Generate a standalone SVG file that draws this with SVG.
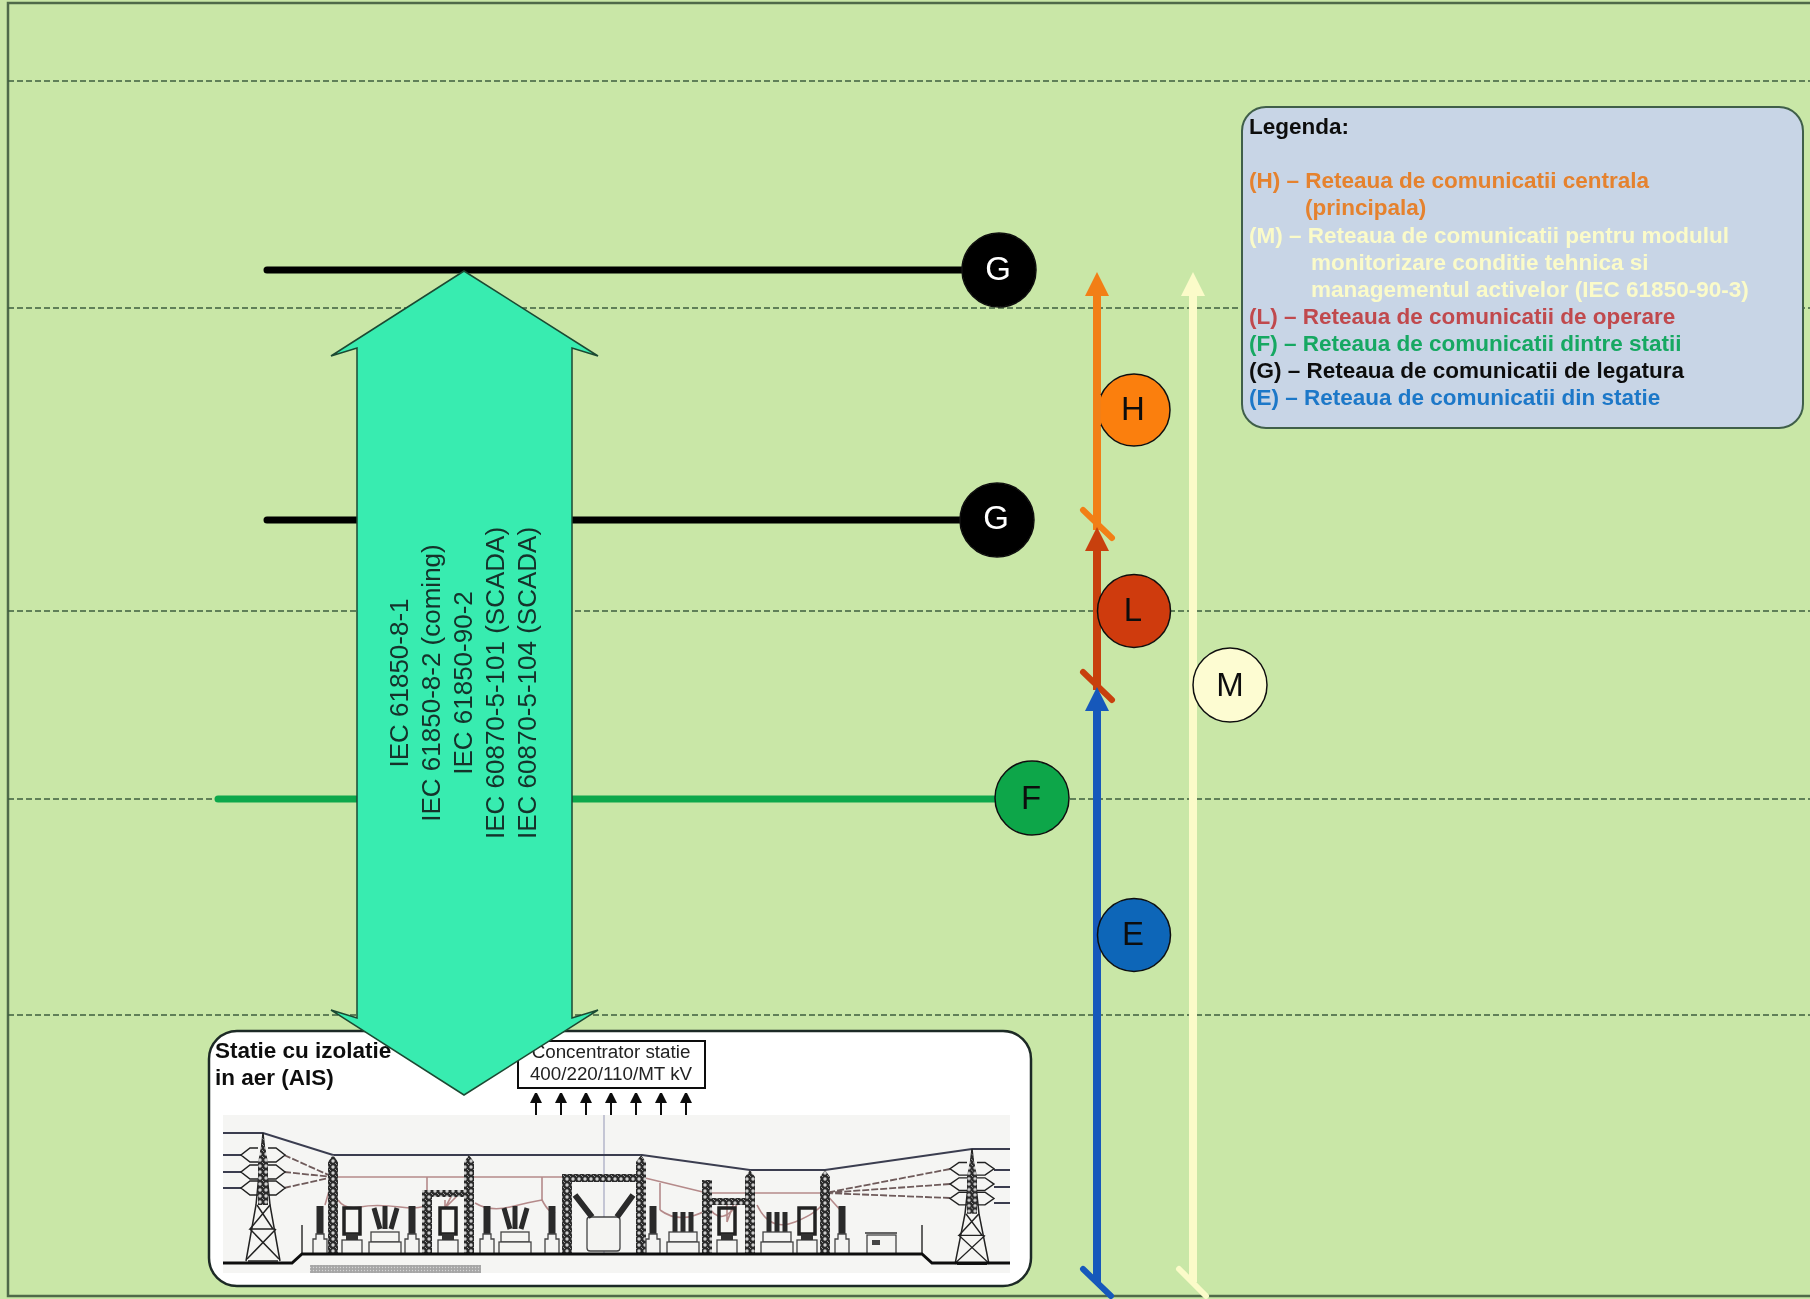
<svg xmlns="http://www.w3.org/2000/svg" xmlns:xlink="http://www.w3.org/1999/xlink" width="1810" height="1299" viewBox="0 0 1810 1299">
<style>
text{font-family:"Liberation Sans",Arial,sans-serif}
.dash{stroke:#3f5f3f;stroke-width:1.5;stroke-dasharray:6 3;fill:none}
.bus{stroke-width:7;stroke-linecap:round;fill:none}
.node{stroke:#111;stroke-width:1.5}
.nl{font-size:33px;text-anchor:middle}
.lg{font-size:22.5px;font-weight:bold}
.st{font-size:22.5px;font-weight:bold;fill:#111}
.cn{font-size:18.8px;text-anchor:middle;fill:#222}
.rot{font-size:26px;text-anchor:middle;fill:#12302a}
.w{stroke:#b58a8a;stroke-width:1.6;fill:none}
.wd{stroke:#6e5a5a;stroke-width:1.8;stroke-dasharray:7 2;fill:none}
.sh{stroke:#3a3d50;stroke-width:2;fill:none}
.t{stroke:#222;stroke-width:1.5;fill:none}
.e{stroke:#444;stroke-width:1.3;fill:#f4f4f2}
.d{fill:#2a2a2a}
.up{stroke:#111;stroke-width:2;marker-end:url(#hk)}
</style>
<defs>
<filter id="soft" x="0" y="0" width="100%" height="100%"><feGaussianBlur stdDeviation="0.55"/></filter>
<pattern id="lat" width="6" height="6" patternUnits="userSpaceOnUse"><rect width="6" height="6" fill="#2b2b2b"/><circle cx="3" cy="3" r="1.7" fill="#cfcfcf"/><circle cx="0" cy="0" r="1" fill="#bbb"/><circle cx="6" cy="6" r="1" fill="#bbb"/></pattern>
<pattern id="grav" width="3" height="3" patternUnits="userSpaceOnUse"><rect width="3" height="3" fill="#a6a6a6"/><circle cx="1.5" cy="1.5" r=".7" fill="#d5d5d5"/></pattern>
<marker id="ho" markerUnits="userSpaceOnUse" viewBox="0 0 24 24" refX="2" refY="12" markerWidth="24" markerHeight="24" orient="auto"><path d="M0 0L24 12L0 24z" fill="#f27f18"/></marker>
<marker id="hr" markerUnits="userSpaceOnUse" viewBox="0 0 24 24" refX="2" refY="12" markerWidth="24" markerHeight="24" orient="auto"><path d="M0 0L24 12L0 24z" fill="#c8400f"/></marker>
<marker id="hb" markerUnits="userSpaceOnUse" viewBox="0 0 24 24" refX="2" refY="12" markerWidth="24" markerHeight="24" orient="auto"><path d="M0 0L24 12L0 24z" fill="#1259bb"/></marker>
<marker id="hy" markerUnits="userSpaceOnUse" viewBox="0 0 24 24" refX="2" refY="12" markerWidth="24" markerHeight="24" orient="auto"><path d="M0 0L24 12L0 24z" fill="#fbfbc9"/></marker>
<marker id="hk" markerUnits="userSpaceOnUse" viewBox="0 0 10 12" refX="1" refY="6" markerWidth="10" markerHeight="12" orient="auto"><path d="M0 0L12 6L0 12z" fill="#111"/></marker>
<g id="col"><rect x="-3.500" y="-28" width="7" height="28" class="d"/><path d="M-4 0h8v5h3v15h-14v-15h3z" class="e"/></g>
<g id="box"><path d="M-8 -24h16v26h-16z" fill="none" stroke="#222" stroke-width="3.500"/><rect x="-10" y="8" width="20" height="14" class="e"/><rect x="-6" y="2" width="12" height="6" fill="#333"/></g>
<g id="brk"><path d="M-11 -24l6 21M0 -26v23M12 -24l-6 21" stroke="#2a2a2a" stroke-width="5" fill="none"/><rect x="-14" y="0" width="28" height="10" class="e"/><rect x="-16" y="10" width="32" height="12" class="e"/></g>
<g id="brk2"><path d="M-8 -20v20M0 -20v20M8 -20v20" stroke="#2a2a2a" stroke-width="5" fill="none"/><rect x="-14" y="0" width="28" height="10" class="e"/><rect x="-16" y="10" width="32" height="12" class="e"/></g>
<g id="tower">
<path d="M0 0L-7 72L-17 128M0 0L7 72L17 128M-15 128H15" class="t"/>
<path d="M0 2L5 30V72H-5V30z" fill="url(#lat)"/>
<path d="M-6 72L10 96L-13 96L7 72M-13 96L16 126M13 96L-16 126M-11 96H11" class="t"/>
<path d="M-5 15h-8l-9 7l9 7h8M5 15h8l9 7l-9 7h-8M-5 32h-8l-9 7l9 7h8M5 32h8l9 7l-9 7h-8M-5 48h-8l-9 7l9 7h8M5 48h8l9 7l-9 7h-8" class="t"/>
</g>
</defs>
<g filter="url(#soft)">
<rect width="1810" height="1299" fill="#c9e7a7"/>
<path d="M1810 3H8V1296H1810" fill="none" stroke="#4f6b4a" stroke-width="2.500"/>
<g id="grid-lines">
<path class="dash" d="M8 81H1810M8 308H1810M8 611H1810M8 799H1810M8 1015H1810"/>
</g>

<g id="substation">
<rect x="209" y="1031" width="822" height="255" rx="28" fill="#fff" stroke="#1f2a25" stroke-width="2.500"/>
<rect x="223" y="1115" width="787" height="158" fill="#f5f5f3"/>
<text class="st" x="215" y="1058">Statie cu izolatie</text>
<text class="st" x="215" y="1085">in aer (AIS)</text>
<rect x="518" y="1041" width="187" height="47" fill="#fff" stroke="#111" stroke-width="2"/>
<text class="cn" x="611" y="1058">Concentrator statie</text>
<text class="cn" x="611" y="1080">400/220/110/MT kV</text>
<path class="up" d="M536 1115V1102"/><path class="up" d="M561 1115V1102"/><path class="up" d="M586 1115V1102"/><path class="up" d="M611 1115V1102"/><path class="up" d="M636 1115V1102"/><path class="up" d="M661 1115V1102"/><path class="up" d="M686 1115V1102"/>
<path d="M604 1115V1254" stroke="#a3a6c0" stroke-width="1.200"/>
<rect x="310" y="1265" width="171" height="8" fill="url(#grav)"/>
<g id="station-art">
<path class="sh" d="M223 1133H263L333 1155H642L750 1170H825L972 1149H1010"/>
<path class="sh" stroke-width="1.500" d="M223 1155H242M223 1172H242M223 1188H242M994 1170H1010M994 1187H1010M994 1203H1010"/>
<path class="wd" d="M284 1155L333 1177M284 1172L333 1177M284 1188L333 1177M950 1169L825 1193M950 1184L825 1193M950 1198L825 1193"/>
<path class="w" d="M333 1177H566M707 1193H825M641 1177L707 1193M427 1177V1200M542 1177V1200M660 1183V1210"/>
<path class="w" d="M338 1200Q345 1210 360 1207T400 1207T427 1203M475 1203Q490 1212 510 1207T542 1200Q550 1215 555 1212M660 1210Q680 1225 707 1210M707 1205Q722 1230 740 1200M757 1205Q770 1232 795 1222T825 1200"/>
<path class="w" d="M445 1200L445 1208M452 1195L445 1208M458 1195L445 1208M727 1200V1222M735 1200L727 1222M825 1193L842 1212M325 1205L333 1177"/>
<g fill="url(#lat)"><path d="M328 1254V1162L333 1155L338 1162V1254z"/><path d="M464 1254V1162L469 1155L474 1162V1254z"/><path d="M636 1254V1162L641 1155L646 1162V1254z"/><path d="M745 1254V1177L750 1170L755 1177V1254z"/><path d="M820 1254V1177L825 1170L830 1177V1254z"/>
<rect x="702" y="1180" width="10" height="74"/><rect x="562" y="1174" width="10" height="80"/><rect x="562" y="1174" width="79" height="8"/><rect x="422" y="1190" width="10" height="64"/><rect x="422" y="1190" width="47" height="7"/><rect x="707" y="1198" width="43" height="7"/></g>
<use xlink:href="#col" x="320" y="1234"/><use xlink:href="#box" x="352" y="1232"/><use xlink:href="#brk" x="385" y="1232"/><use xlink:href="#col" x="412" y="1234"/><use xlink:href="#box" x="448" y="1232"/><use xlink:href="#col" x="487" y="1234"/><use xlink:href="#brk" x="515" y="1232"/><use xlink:href="#col" x="552" y="1234"/>
<rect x="587" y="1217" width="33" height="34" rx="3" class="e"/><path d="M575 1195L592 1217M633 1195L617 1217" stroke="#2a2a2a" stroke-width="6"/>
<use xlink:href="#col" x="653" y="1234"/><use xlink:href="#brk2" x="683" y="1232"/><use xlink:href="#box" x="727" y="1232"/><use xlink:href="#brk2" x="777" y="1232"/><use xlink:href="#box" x="807" y="1232"/><use xlink:href="#col" x="842" y="1234"/>
<rect x="867" y="1235" width="29" height="19" class="e"/><path d="M865 1233H897" stroke="#333" stroke-width="1.500"/><rect x="872" y="1240" width="8" height="5" fill="#444"/>
<path d="M302 1225V1254M922 1225V1254" stroke="#333" stroke-width="1.500"/>
<use xlink:href="#tower" transform="translate(263 1133)"/><use xlink:href="#tower" transform="translate(972 1149) scale(1 .9)"/>
<path d="M223 1263H292L302 1254H922L932 1263H1010" fill="none" stroke="#111" stroke-width="3"/>
</g>
</g>

<g id="connectors">
<path class="bus" stroke="#000" d="M267 270H999M267 520H997"/>
<path class="bus" stroke="#11a84c" d="M218 799H1031"/>
<path d="M1083 510L1112 538" stroke="#f27f18" stroke-width="6" stroke-linecap="round"/>
<path d="M1097 530V294" stroke="#f27f18" stroke-width="8" fill="none" marker-end="url(#ho)"/>
<path d="M1083 672L1112 700" stroke="#c8400f" stroke-width="6" stroke-linecap="round"/>
<path d="M1097 690V549" stroke="#c8400f" stroke-width="8" fill="none" marker-end="url(#hr)"/>
<path d="M1083 1269L1111 1296" stroke="#1259bb" stroke-width="6" stroke-linecap="round"/>
<path d="M1097 1282V709" stroke="#1259bb" stroke-width="8" fill="none" marker-end="url(#hb)"/>
<path d="M1179 1269L1206 1296" stroke="#fbfbc9" stroke-width="6" stroke-linecap="round"/>
<path d="M1193 1282V294" stroke="#fbfbc9" stroke-width="8" fill="none" marker-end="url(#hy)"/>
</g>

<g id="standards-arrow">
<path d="M464 271L598 356L572 348V1018L598 1010L464 1095L331 1010L357 1018V348L331 356z" fill="#38ecb0" stroke="#1c4a33" stroke-width="1.500"/>
<g class="rot">
<text transform="translate(408 683) rotate(-90)">IEC 61850-8-1</text>
<text transform="translate(440 683) rotate(-90)">IEC 61850-8-2 (coming)</text>
<text transform="translate(472 683) rotate(-90)">IEC 61850-90-2</text>
<text transform="translate(504 683) rotate(-90)">IEC 60870-5-101 (SCADA)</text>
<text transform="translate(536 683) rotate(-90)">IEC 60870-5-104 (SCADA)</text>
</g>
</g>

<g id="node-g1"><circle class="node" cx="999" cy="270" r="37" fill="#000"/><text class="nl" x="998" y="280" fill="#fff">G</text></g>
<g id="node-g2"><circle class="node" cx="997" cy="520" r="37" fill="#000"/><text class="nl" x="996" y="529" fill="#fff">G</text></g>
<g id="node-f"><circle class="node" cx="1032" cy="798" r="37" fill="#0ea64a"/><text class="nl" x="1031" y="809" fill="#111">F</text></g>
<g id="node-h"><circle class="node" cx="1134" cy="410" r="36" fill="#fb7f0e"/><path d="M1097 395V425" stroke="#f27f18" stroke-width="8"/><text class="nl" x="1133" y="420" fill="#111">H</text></g>
<g id="node-l"><circle class="node" cx="1134" cy="611" r="36.500" fill="#cf3a07"/><text class="nl" x="1133" y="621" fill="#111">L</text></g>
<g id="node-m"><circle class="node" cx="1230" cy="685" r="37" fill="#fdfcd2"/><text class="nl" x="1230" y="696" fill="#111">M</text></g>
<g id="node-e"><circle class="node" cx="1134" cy="935" r="36.500" fill="#0a66b8"/><text class="nl" x="1133" y="945" fill="#111">E</text></g>

<g id="legend">
<rect x="1242" y="107" width="561" height="321" rx="24" fill="#c8d5e6" stroke="#3f5f4a" stroke-width="2"/>
<g class="lg">
<text x="1249" y="134" fill="#111">Legenda:</text>
<text x="1249" y="188" fill="#e5822e">(H) – Reteaua de comunicatii centrala</text>
<text x="1305" y="215" fill="#e5822e">(principala)</text>
<text x="1249" y="243" fill="#fbfbc9">(M) – Reteaua de comunicatii pentru modulul</text>
<text x="1311" y="270" fill="#fbfbc9">monitorizare conditie tehnica si</text>
<text x="1311" y="297" fill="#fbfbc9">managementul activelor (IEC 61850-90-3)</text>
<text x="1249" y="324" fill="#c04a4e">(L) – Reteaua de comunicatii de operare</text>
<text x="1249" y="351" fill="#16a862">(F) – Reteaua de comunicatii dintre statii</text>
<text x="1249" y="378" fill="#111">(G) – Reteaua de comunicatii de legatura</text>
<text x="1249" y="405" fill="#1f78c8">(E) – Reteaua de comunicatii din statie</text>
</g>
</g>
</g>
</svg>
